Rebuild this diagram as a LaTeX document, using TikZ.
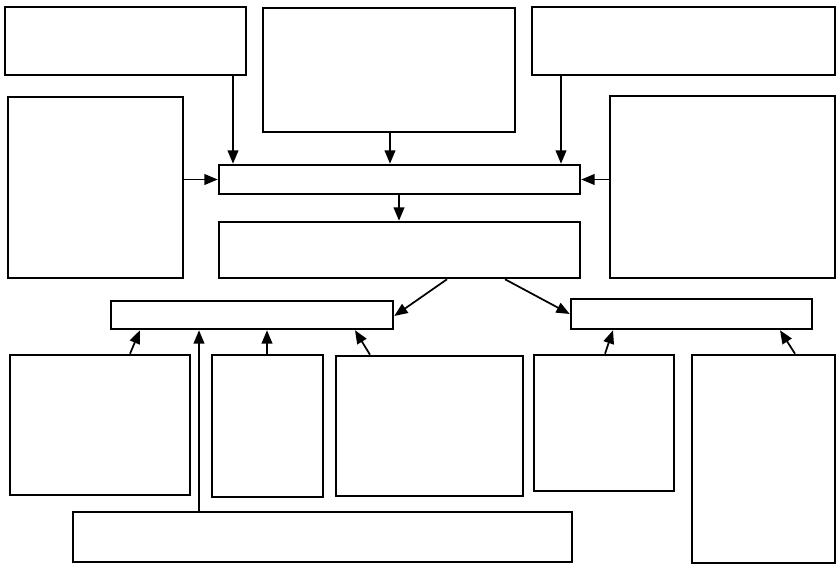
\documentclass[tikz,border=0pt]{standalone}
\usetikzlibrary{fit,arrows.meta}
\begin{document}
\begin{tikzpicture}[x=0.75pt,y=-0.75pt,
  box/.style={draw=black,line width=1.9pt,inner sep=0pt,fill=white},
  arr/.style={draw=black,line width=1.3pt,-{Triangle[length=10pt,width=8pt]}}]
\useasboundingbox (0,0) rectangle (838,566);
% top row
\node[box,fit={(5,7) (246,75)}] (tl) {};
\node[box,fit={(263,8) (515,132)}] (tm) {};
\node[box,fit={(532,7) (835,75)}] (tr) {};
% side boxes
\node[box,fit={(8,97) (183,278)}] (lb) {};
\node[box,fit={(610,96) (835,278)}] (rb) {};
% central boxes
\node[box,fit={(219,165) (580,194)}] (m1) {};
\node[box,fit={(219,222) (580,278)}] (m2) {};
% lower bars
\node[box,fit={(111,301) (393,329)}] (lbar) {};
\node[box,fit={(571,299) (812,329)}] (rbar) {};
% lower row boxes
\node[box,fit={(10,355) (190,495)}] (ba) {};
\node[box,fit={(212,355) (323,497)}] (bb) {};
\node[box,fit={(336,356) (523,496)}] (bc) {};
\node[box,fit={(534,355) (674,491)}] (bd) {};
\node[box,fit={(692,355) (835,563)}] (be) {};
\node[box,fit={(73,512) (572,562)}] (bf) {};
% x positions
\coordinate (xa) at (233,0);
\coordinate (xb) at (390,0);
\coordinate (xc) at (561,0);
\coordinate (xd) at (399,0);
\coordinate (xe) at (447,0);
\coordinate (xf) at (505,0);
\coordinate (ya) at (0,316);
\coordinate (yb) at (0,314);
\coordinate (a1) at (130,0);
\coordinate (a2) at (140,0);
\coordinate (b1) at (199,0);
\coordinate (c1) at (267,0);
\coordinate (d1) at (370,0);
\coordinate (d2) at (355,0);
\coordinate (e1) at (605,0);
\coordinate (e2) at (613,0);
\coordinate (f1) at (795,0);
\coordinate (f2) at (780,0);
% arrows into m1
\draw[arr] (tl.south -| xa) -- (m1.north -| xa);
\draw[arr] (tm.south -| xb) -- (m1.north -| xb);
\draw[arr] (tr.south -| xc) -- (m1.north -| xc);
\draw[arr] (lb.east |- m1.west) -- (m1.west);
\draw[arr] (rb.west |- m1.east) -- (m1.east);
\draw[arr] (m1.south -| xd) -- (m2.north -| xd);
% m2 to bars
\draw[arr] (m2.south -| xe) -- (lbar.east |- ya);
\draw[arr] (m2.south -| xf) -- (rbar.west |- yb);
% into left bar
\draw[arr] (ba.north -| a1) -- (lbar.south -| a2);
\draw[arr] (bf.north -| b1) -- (lbar.south -| b1);
\draw[arr] (bb.north -| c1) -- (lbar.south -| c1);
\draw[arr] (bc.north -| d1) -- (lbar.south -| d2);
% into right bar
\draw[arr] (bd.north -| e1) -- (rbar.south -| e2);
\draw[arr] (be.north -| f1) -- (rbar.south -| f2);
\end{tikzpicture}
\end{document}
